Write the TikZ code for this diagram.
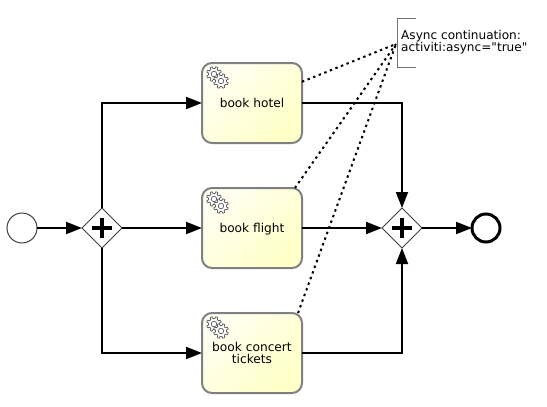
\documentclass[tikz,border=0pt]{standalone}
\usepackage{fontspec}
\setmainfont{DejaVu Sans}[Ligatures=TeXOff]
\usetikzlibrary{arrows.meta,shapes.geometric,calc}

% one small cog, #1 = centre, #2 = radius
\newcommand{\cogwheel}[2]{%
  \draw [cog] #1 ++(0:#2)
    \foreach \a in {0,45,...,315} {
      -- ++(0,0) -- ($#1+(\a+9:#2)$) -- ($#1+(\a+14:#2+2)$) -- ($#1+(\a+31:#2+2)$) -- ($#1+(\a+36:#2)$)
    } -- cycle;
  \draw [cog] #1 circle (#2*0.5);
}

\begin{document}
\begin{tikzpicture}[
    x=1pt, y=-1pt,
    task/.style={draw=black!50, line width=2pt, rounded corners=10pt, minimum width=100pt,
      minimum height=80pt, inner sep=0pt, outer sep=0pt, align=center, font=\fontsize{12.2}{12}\selectfont,
      top color=yellow!5, bottom color=yellow!22, shading angle=45},
    oneline/.style={text height=9pt, text depth=0pt},
    gate/.style={draw=black!75, fill=white, diamond, aspect=1, minimum size=40pt, inner sep=0pt, outer sep=0pt, thick},
    plus/.style={line width=3.4pt},
    cog/.style={draw=black!65, fill=white, line width=0.7pt, line join=round},
    flow/.style={line width=2pt, -{Triangle[length=16pt, width=12pt]}},
    assoc/.style={line width=2pt, dash pattern=on 2.4pt off 3.6pt}
  ]
  \useasboundingbox (0, 0) rectangle (547, 407);

  \node (start) at (22, 228) [circle, draw=black!75, fill=white, minimum size=30pt, inner sep=0pt, outer sep=0pt, line width=1pt] {};
  \node (split) at (102, 228) [gate] {};
  \node (hotel) at (252, 103) [task, oneline] {book hotel};
  \node (flight) at (252, 228) [task, oneline] {book flight};
  \node (concert) at (252, 353) [task] {book concert\\tickets};
  \node (join) at (402, 228) [gate] {};
  \node (finish) at (486, 228) [circle, draw=black, fill=white, minimum size=28pt, inner sep=0pt, outer sep=0pt, line width=3pt] {};

  \coordinate (noteTop) at (416, 18);
  \coordinate (noteBottom) at (416, 67);
  \coordinate (noteEnd) at (396, 44);
  \node (note) at (401, 42.5) [anchor=west, inner sep=0pt, align=left, font=\fontsize{12.1}{12}\selectfont] {Async continuation:\\activiti:async="true"};

  \draw [draw=black!55, line width=1pt] (noteTop) -- (397, 18) -- (397, 67) -- (noteBottom);

  % the plus signs
  \foreach \g in {split, join} {
    \draw [plus] ($(\g)+(-10, 0)$) -- ($(\g)+(10, 0)$);
    \draw [plus] ($(\g)+(0, -10)$) -- ($(\g)+(0, 10)$);
  }

  % the service icons
  \foreach \t in {hotel, flight, concert} {
    \coordinate (c1) at ($(\t.north west)+(12, 11)$);
    \coordinate (c2) at ($(\t.north west)+(19, 18)$);
    \cogwheel{(c1)}{5.5}
    \cogwheel{(c2)}{5.5}
  }

  \draw [flow] (start) -- (split);
  \draw [flow] (split) |- (hotel);
  \draw [flow] (split) -- (flight);
  \draw [flow] (split) |- (concert);
  \draw [flow] (hotel) -| (join);
  \draw [flow] (flight) -- (join);
  \draw [flow] (concert) -| (join);
  \draw [flow] (join) -- (finish);

  \draw [assoc] (hotel.23) -- (noteEnd);
  \draw [assoc] (flight.43) -- (noteEnd);
  \draw [assoc] (concert.41) -- (noteEnd);
\end{tikzpicture}
\end{document}
